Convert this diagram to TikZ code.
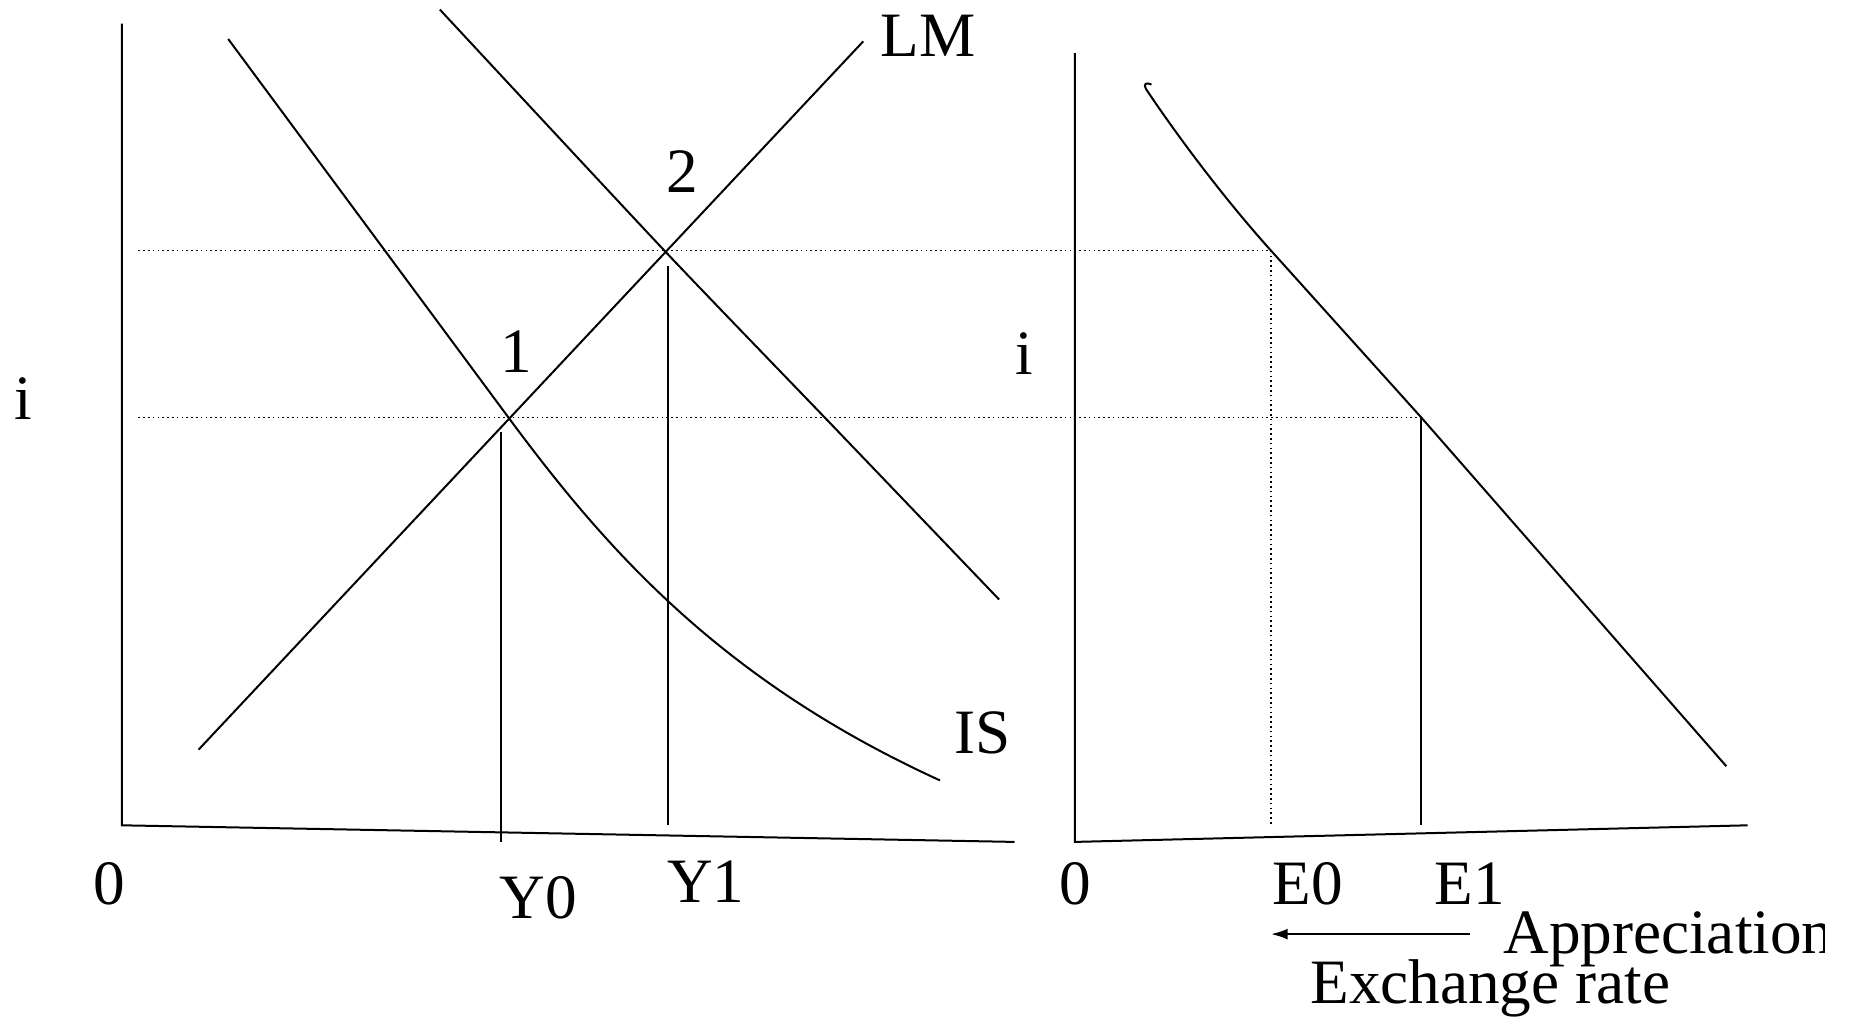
\documentclass[tikz,border=0pt]{standalone}
\usepackage{fontspec}
\setmainfont{Liberation Serif}
\usetikzlibrary{arrows.meta}
\begin{document}
\begin{tikzpicture}[x=0.5pt,y=-0.5pt,
  curve/.style={line width=1pt},
  dotline/.style={line width=0.7pt, dash pattern=on 0.8pt off 1.6pt},
  lbl/.style={inner sep=0pt, anchor=base, font=\fontsize{31.6}{38}\selectfont},
  lbll/.style={inner sep=0pt, anchor=base west, font=\fontsize{31.6}{38}\selectfont}]
\useasboundingbox (0,0) rectangle (1854,1019);
% ---------- left panel coordinates
\coordinate (Ltop) at (121.8,23.6);
\coordinate (LO) at (121.8,825.3);
\coordinate (Lend) at (1014.5,841.9);
\coordinate (LMa) at (198.6,749.6);
\coordinate (LMb) at (863.2,41.4);
\coordinate (P1) at (508.4,417.4);
\coordinate (P2) at (664.5,250.7);
\coordinate (ISa) at (228.2,39.0);
\coordinate (ISb) at (940,780.4);
\coordinate (Y0a) at (501.3,431.6);
\coordinate (Y0b) at (501.3,841.9);
\coordinate (Y1a) at (668.1,266);
\coordinate (Y1b) at (668.1,825.3);
\coordinate (D2a) at (138.3,250.7);
\coordinate (D1a) at (138.3,417.4);
% ---------- right panel coordinates
\coordinate (Rtop) at (1074.8,53.2);
\coordinate (RO) at (1074.8,841.9);
\coordinate (Rend) at (1747.6,825.3);
\coordinate (Q2) at (1271.1,250.7);
\coordinate (Q1) at (1421.2,417.4);
\coordinate (Rc0) at (1151.5,84.5);
\coordinate (Rc1) at (1146,89);
\coordinate (Rcend) at (1726.3,766.2);
\coordinate (E0b) at (1271.1,825.3);
\coordinate (E1b) at (1421.2,825.3);
\coordinate (Aa) at (1469.7,934.1);
\coordinate (Ab) at (1271.1,934.1);
% ---------- axes
\draw[curve] (Ltop) -- (LO) -- (Lend);
\draw[curve] (Rtop) -- (RO) -- (Rend);
% ---------- dotted guides
\draw[dotline] (D2a) -- (Q2) -- (E0b);
\draw[dotline] (D1a) -- (Q1);
% ---------- curves
\draw[curve] (LMa) -- (LMb);
\draw[curve] (ISa) -- (P1) .. controls (605,548) and (720,680) .. (ISb);
\draw[curve] plot[smooth, tension=0.4] coordinates {(439.8,9.5) (664.5,250.7) (830,423) (999.1,599.5)};
\draw[curve] (Rc0) .. controls (1146,82) and (1143,84) .. (Rc1)
  .. controls (1180,140) and (1228,203) .. (Q2) -- (Q1) -- (Rcend);
% ---------- verticals
\draw[curve] (Y0a) -- (Y0b);
\draw[curve] (Y1a) -- (Y1b);
\draw[curve] (Q1) -- (E1b);
% ---------- arrow
\draw[curve, -{Latex[length=8.3pt,width=5.5pt]}] (Aa) -- (Ab);
% ---------- labels
\node[lbl] (iL) at (23.6,419.7) {i};
\node[lbl] (zL) at (108.8,904.5) {0};
\node[lbl] (y0) at (538,918.7) {Y0};
\node[lbl] (y1) at (705.9,902.2) {Y1};
\node[lbl] (lm) at (928.2,56.8) {LM};
\node[lbl] (is) at (982.6,753.2) {IS};
\node[lbl] (one) at (516.7,372.5) {1};
\node[lbl] (two) at (682.2,192.7) {2};
\node[lbl] (iR) at (1024,374.8) {i};
\node[lbl] (zR) at (1074.8,904.5) {0};
\node[lbl] (e0) at (1307.7,904.5) {E0};
\node[lbl] (e1) at (1469.7,904.5) {E1};
\begin{scope}
  \clip (1490,880) rectangle (1824,1000);
  \node[lbll] (app) at (1503,953) {Appreciation};
\end{scope}
\node[lbll] (exr) at (1310,1003.5) {Exchange rate};
\end{tikzpicture}
\end{document}
